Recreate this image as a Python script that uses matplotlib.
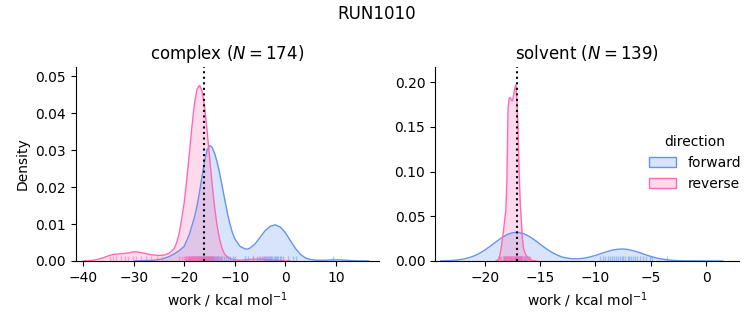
import numpy as np
import matplotlib
matplotlib.use("Agg")
import matplotlib.pyplot as plt
from matplotlib.patches import Patch

# colours of the two directions
c_fwd = "cornflowerblue"
c_rev = "hotpink"

# ---------------- complex leg: density curves
cx_fwd = [-30, -28, -26, -25, -24, -23, -22, -21, -20, -19, -18, -17.5, -17, -16.5, -16,
          -15.5, -15, -14.5, -14, -13.5, -13, -12.5, -12, -11.5, -11, -10.5, -10, -9, -8,
          -7.5, -7, -6, -5, -4, -3, -2, -1, 0, 1, 2, 3, 4, 5, 6, 7, 8, 9, 10, 11, 12, 13,
          15, 16.5]
cy_fwd = [0, 0.0001, 0.0002, 0.0004, 0.0007, 0.0012, 0.0019, 0.0028, 0.0040, 0.0072,
          0.0118, 0.0148, 0.0185, 0.0228, 0.0270, 0.0300, 0.0313, 0.0308, 0.0292, 0.0268,
          0.0238, 0.0203, 0.0167, 0.0132, 0.0102, 0.0078, 0.0060, 0.0040, 0.0033, 0.0032,
          0.0035, 0.0046, 0.0064, 0.0082, 0.0094, 0.0098, 0.0092, 0.0077, 0.0055, 0.0034,
          0.0018, 0.0008, 0.0004, 0.0002, 0.0002, 0.0002, 0.0003, 0.0003, 0.0003, 0.0002,
          0.0001, 0.00003, 0]

cx_rev = [-40, -39, -38, -37, -36, -35, -34, -33, -32, -31, -30, -29, -28, -27, -26, -25,
          -24, -23, -22, -21.5, -21, -20.5, -20, -19.5, -19, -18.5, -18, -17.5, -17, -16.5,
          -16, -15.5, -15, -14.5, -14, -13.5, -13, -12.5, -12, -11, -10, -9, -8, -7, -6, -5,
          -4, -3, -2, -1, 1]
cy_rev = [0, 0.00005, 0.0002, 0.0005, 0.0009, 0.0014, 0.0018, 0.0019, 0.0020, 0.0022,
          0.0025, 0.0024, 0.0021, 0.0018, 0.0016, 0.0015, 0.0016, 0.0021, 0.0033, 0.0050,
          0.0075, 0.0115, 0.0160, 0.0222, 0.0290, 0.0362, 0.0425, 0.0465, 0.0476, 0.0462,
          0.0420, 0.0355, 0.0282, 0.0210, 0.0145, 0.0095, 0.0058, 0.0033, 0.0018, 0.0006,
          0.0003, 0.0002, 0.0003, 0.0004, 0.0005, 0.0005, 0.0004, 0.0003, 0.0002, 0.0001, 0]

# complex rug positions (work values)
c_rug_fwd = [-19.6, -19.1, -18.7, -18.4, -18.0, -17.8, -17.5, -17.3, -17.1, -16.9, -16.7,
             -16.5, -16.3, -16.1, -15.9, -15.8, -15.6, -15.4, -15.3, -15.1, -15.0, -14.8,
             -14.7, -14.5, -14.3, -14.2, -14.0, -13.8, -13.6, -13.4, -13.1, -12.8, -12.5,
             -12.2, -11.8, -11.4, -10.9, -10.4, -10.0, -8.0, -7.4, -6.4, -5.7, -5.1, -4.6,
             -4.3, -4.0, -3.8, -3.5, -3.3, -3.0, -2.8, -2.6, -2.3, -2.1, -1.9, -1.6, -1.4,
             -1.1, -0.8, -0.5, 0.5, 1.5, 2.2, 9.4]
c_rug_rev = [-34.8, -34.1, -33.5, -32.5, -31.8, -31.2, -30.2, -29.5, -28.5, -27.5, -26.5,
             -25.5, -24.5, -21.0, -20.5, -20.1, -19.8, -19.6, -19.5, -19.3, -19.2, -19.1,
             -19.0, -18.9, -18.8, -18.7, -18.6, -18.5, -18.4, -18.3, -18.2, -18.1, -18.0,
             -17.9, -17.8, -17.7, -17.6, -17.5, -17.4, -17.3, -17.2, -17.1, -17.0, -16.9,
             -16.8, -16.7, -16.6, -16.5, -16.4, -16.3, -16.2, -16.1, -16.0, -15.9, -15.8,
             -15.7, -15.6, -15.5, -15.4, -15.2, -15.1, -14.9, -14.8, -14.6, -14.5, -14.3,
             -14.1, -13.6, -13.0, -12.7, -6.4, -5.3, -4.5, -3.7]
c_median = -16.0

# ---------------- solvent leg
sx_fwd = [-24, -23.5, -23, -22.5, -22, -21.5, -21, -20.5, -20, -19.5, -19, -18.5, -18,
          -17.5, -17, -16.5, -16, -15.5, -15, -14.5, -14, -13.5, -13, -12.5, -12, -11.5,
          -11, -10.5, -10, -9.5, -9, -8.5, -8, -7.5, -7, -6.5, -6, -5.5, -5, -4.5, -4,
          -3.5, -3, -2.5, -2, -1, 0, 1.5]
sy_fwd = [0.0001, 0.0003, 0.0005, 0.0011, 0.0020, 0.0034, 0.0055, 0.0084, 0.0122, 0.0166,
          0.0213, 0.0257, 0.0294, 0.0316, 0.0320, 0.0306, 0.0276, 0.0235, 0.0188, 0.0142,
          0.0101, 0.0068, 0.0043, 0.0031, 0.0024, 0.0025, 0.0032, 0.0045, 0.0062, 0.0083,
          0.0103, 0.0121, 0.0131, 0.0134, 0.0127, 0.0112, 0.0093, 0.0071, 0.0051, 0.0034,
          0.0022, 0.0013, 0.0007, 0.0004, 0.0002, 0.0001, 0.00003, 0]

sx_rev = [-19.0, -18.7, -18.5, -18.3, -18.1, -18.0, -17.9, -17.8, -17.7, -17.6, -17.5,
          -17.4, -17.3, -17.2, -17.1, -17.0, -16.9, -16.8, -16.7, -16.6, -16.5, -16.3,
          -16.1, -15.9, -15.6, -15.3]
sy_rev = [0, 0.002, 0.016, 0.035, 0.057, 0.090, 0.170, 0.182, 0.183, 0.180, 0.179, 0.185,
          0.193, 0.197, 0.180, 0.150, 0.100, 0.065, 0.045, 0.025, 0.014, 0.007, 0.004,
          0.0015, 0.0003, 0]

s_rug_fwd = [-18.2, -17.9, -17.7, -17.5, -17.4, -17.3, -17.2, -17.1, -17.0, -16.9, -16.8,
             -16.7, -16.6, -16.5, -16.4, -16.2, -9.6, -9.3, -9.1, -8.9, -8.7, -8.5, -8.3,
             -8.1, -8.0, -7.8, -7.6, -7.5, -7.3, -7.1, -7.0, -6.8, -6.6, -6.4, -6.2, -6.0,
             -5.7, -5.4, -5.1, -4.9, -3.56]
s_rug_rev = [-18.8, -18.6, -18.5, -18.4, -18.3, -18.25, -18.2, -18.15, -18.1, -18.05, -18.0,
             -17.95, -17.9, -17.85, -17.8, -17.75, -17.7, -17.65, -17.6, -17.55, -17.5,
             -17.45, -17.4, -17.35, -17.3, -17.25, -17.2, -17.15, -17.1, -17.05, -17.0,
             -16.95, -16.9, -16.85, -16.8, -16.75, -16.7, -16.65, -16.6, -16.5, -16.4,
             -16.3, -16.1, -16.0, -15.9]
s_median = -17.13

titles = [r"complex ($N = 174$)", r"solvent ($N = 139$)"]

fig = plt.figure(figsize=(7.53, 3.25), dpi=100)
ax1 = fig.add_axes([0.1005, 0.197, 0.4032, 0.596])
ax2 = fig.add_axes([0.5777, 0.197, 0.4041, 0.596])


def draw(ax, xf, yf, xr, yr, rf, rr, med):
    for x, y, c in [(xf, yf, c_fwd), (xr, yr, c_rev)]:
        ax.fill_between(x, y, 0, color=c, alpha=0.25, lw=0)
        ax.plot(x, y, color=c, lw=1)
    tr = ax.get_xaxis_transform()
    ax.vlines(rf, 0, 0.025, transform=tr, color=c_fwd, lw=1, alpha=0.5)
    ax.vlines(rr, 0, 0.025, transform=tr, color=c_rev, lw=1, alpha=0.5)
    ax.axvline(med, color="k", ls=":", lw=1.5)
    ax.spines["top"].set_visible(False)
    ax.spines["right"].set_visible(False)
    ax.set_xlabel(r"work / kcal mol$^{-1}$")


draw(ax1, cx_fwd, cy_fwd, cx_rev, cy_rev, c_rug_fwd, c_rug_rev, c_median)
draw(ax2, sx_fwd, sy_fwd, sx_rev, sy_rev, s_rug_fwd, s_rug_rev, s_median)

ax1.set_xlim(-41.5, 18.6)
ax1.set_ylim(0, 0.0525)
ax1.set_yticks([0, 0.01, 0.02, 0.03, 0.04, 0.05])
ax1.set_ylabel("Density")
ax1.set_title(titles[0])

ax2.set_xlim(-24.5, 3.0)
ax2.set_ylim(0, 0.2167)
ax2.set_yticks([0, 0.05, 0.10, 0.15, 0.20])
ax2.set_title(titles[1])

handles = [Patch(facecolor=matplotlib.colors.to_rgba(c_fwd, 0.25), edgecolor=c_fwd),
           Patch(facecolor=matplotlib.colors.to_rgba(c_rev, 0.25), edgecolor=c_rev)]
ax2.legend(handles, ["forward", "reverse"], title="direction", frameon=False,
           loc="center right", bbox_to_anchor=(1.047, 0.505))

fig.suptitle("RUN1010", y=0.985)

fig.savefig("out.png", dpi=100)
